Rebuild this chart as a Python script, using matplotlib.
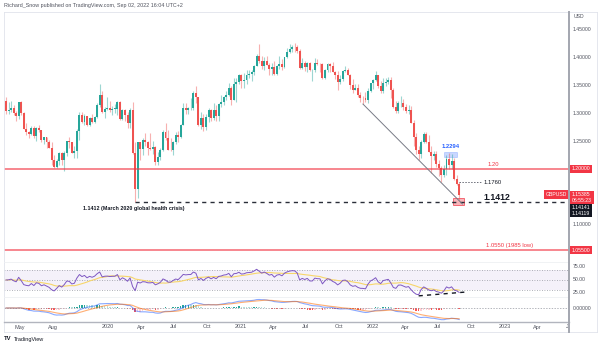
import numpy as np
import pandas as pd
import matplotlib
matplotlib.use("Agg")
import matplotlib.pyplot as plt
import matplotlib.dates as mdates
from matplotlib import transforms
from matplotlib.patches import Rectangle
from matplotlib.lines import Line2D

plt.rcParams['font.family'] = ['Liberation Sans', 'DejaVu Sans']

# weekly GBPUSD candles, week of 2019-03-25 .. week of 2022-08-29
weeks = pd.date_range("2019-03-25", periods=180, freq="W-MON")
first_open = 1.3210
closes = [
    1.3035, 1.3045, 1.3085, 1.2995, 1.2940, 1.3190, 1.3000, 1.2720, 1.2655, 1.2625,
    1.2740, 1.2590, 1.2740, 1.2695, 1.2520, 1.2570, 1.2475, 1.2375, 1.2160, 1.2030,
    1.2145, 1.2285, 1.2160, 1.2290, 1.2500, 1.2475, 1.2290, 1.2330, 1.2670, 1.2970,
    1.2835, 1.2940, 1.2780, 1.2905, 1.2845, 1.2935, 1.3150, 1.3325, 1.3010, 1.3075,
    1.3085,
    1.3060, 1.3075, 1.3080, 1.3200, 1.2900, 1.3045, 1.2960, 1.2820, 1.3050, 1.2280,
    1.1640, 1.2480, 1.2360, 1.2510, 1.2480, 1.2370, 1.2360, 1.2400, 1.2120, 1.2210,
    1.2345, 1.2665, 1.2555, 1.2345, 1.2335, 1.2485, 1.2615, 1.2565, 1.2790, 1.3085,
    1.3050, 1.3085, 1.3090, 1.3350, 1.3280, 1.2790, 1.2915, 1.2745, 1.2935, 1.3050,
    1.2915, 1.3045, 1.2945, 1.3155, 1.3195, 1.3285, 1.3315, 1.3440, 1.3230, 1.3520,
    1.3550, 1.3670,
    1.3565, 1.3590, 1.3685, 1.3705, 1.3730, 1.3845, 1.4010, 1.3925, 1.3835, 1.3925,
    1.3865, 1.3785, 1.3830, 1.3705, 1.3840, 1.3875, 1.3820, 1.3995, 1.4090, 1.4150,
    1.4185, 1.4180, 1.4110, 1.3800, 1.3885, 1.3830, 1.3890, 1.3760, 1.3760, 1.3900,
    1.3875, 1.3870, 1.3620, 1.3765, 1.3870, 1.3835, 1.3740, 1.3675, 1.3545, 1.3615,
    1.3745, 1.3760, 1.3680, 1.3500, 1.3415, 1.3440, 1.3330, 1.3270, 1.3265, 1.3235,
    1.3400, 1.3530,
    1.3590, 1.3680, 1.3485, 1.3390, 1.3530, 1.3560, 1.3590, 1.3410, 1.3110, 1.3035,
    1.3180, 1.3185, 1.3110, 1.3035, 1.3060, 1.2830, 1.2570, 1.2335, 1.2260, 1.2490,
    1.2620, 1.2490, 1.2310, 1.2230, 1.2265, 1.2095, 1.2025, 1.1890, 1.1995, 1.2180,
    1.2075, 1.2135, 1.1830, 1.1735, 1.1540,
]
highs = [
    1.3290, 1.3195, 1.3210, 1.3150, 1.3030, 1.3200, 1.3215, 1.3010, 1.2815, 1.2680,
    1.2765, 1.2760, 1.2750, 1.2785, 1.2700, 1.2580, 1.2580, 1.2520, 1.2480, 1.2250,
    1.2175, 1.2310, 1.2310, 1.2330, 1.2500, 1.2580, 1.2490, 1.2410, 1.2710, 1.3010,
    1.3010, 1.2980, 1.2950, 1.2925, 1.2985, 1.2950, 1.3180, 1.3515, 1.3385, 1.3115,
    1.3285,
    1.3215, 1.3120, 1.3165, 1.3210, 1.3210, 1.3070, 1.3070, 1.3010, 1.3085, 1.3200,
    1.2485, 1.2485, 1.2485, 1.2545, 1.2650, 1.2500, 1.2645, 1.2500, 1.2405, 1.2295,
    1.2375, 1.2690, 1.2815, 1.2690, 1.2545, 1.2505, 1.2665, 1.2670, 1.2810, 1.3170,
    1.3185, 1.3105, 1.3265, 1.3395, 1.3480, 1.3285, 1.3010, 1.2980, 1.2980, 1.3085,
    1.3080, 1.3175, 1.3140, 1.3175, 1.3315, 1.3300, 1.3400, 1.3540, 1.3480, 1.3625,
    1.3625, 1.3705,
    1.3705, 1.3710, 1.3760, 1.3760, 1.3760, 1.3865, 1.4050, 1.4240, 1.4015, 1.4000,
    1.4015, 1.3890, 1.3885, 1.3920, 1.3850, 1.4010, 1.3960, 1.4005, 1.4165, 1.4235,
    1.4220, 1.4250, 1.4215, 1.4135, 1.3985, 1.3935, 1.3910, 1.3910, 1.3785, 1.3985,
    1.3960, 1.3890, 1.3890, 1.3785, 1.3890, 1.3890, 1.3915, 1.3750, 1.3750, 1.3675,
    1.3770, 1.3835, 1.3810, 1.3700, 1.3610, 1.3515, 1.3510, 1.3370, 1.3300, 1.3375,
    1.3440, 1.3535,
    1.3600, 1.3750, 1.3685, 1.3565, 1.3630, 1.3630, 1.3645, 1.3645, 1.3440, 1.3215,
    1.3215, 1.3300, 1.3245, 1.3165, 1.3145, 1.3130, 1.2880, 1.2640, 1.2410, 1.2525,
    1.2665, 1.2665, 1.2600, 1.2405, 1.2325, 1.2330, 1.2165, 1.2060, 1.2065, 1.2245,
    1.2294, 1.2275, 1.2190, 1.1900, 1.1760,
]
lows = [
    1.2980, 1.2980, 1.3010, 1.2960, 1.2865, 1.2900, 1.2970, 1.2710, 1.2605, 1.2560,
    1.2610, 1.2560, 1.2505, 1.2660, 1.2475, 1.2440, 1.2380, 1.2370, 1.2080, 1.2015,
    1.2015, 1.2065, 1.2065, 1.1960, 1.2235, 1.2380, 1.2280, 1.2200, 1.2195, 1.2515,
    1.2815, 1.2780, 1.2770, 1.2770, 1.2820, 1.2825, 1.2915, 1.3105, 1.3000, 1.2905,
    1.3060,
    1.3010, 1.2960, 1.3005, 1.2960, 1.2870, 1.2875, 1.2850, 1.2725, 1.2725, 1.2260,
    1.1412, 1.1480, 1.2165, 1.2250, 1.2405, 1.2250, 1.2345, 1.2265, 1.2075, 1.2075,
    1.2160, 1.2330, 1.2520, 1.2335, 1.2330, 1.2250, 1.2450, 1.2480, 1.2545, 1.2780,
    1.2980, 1.2985, 1.3060, 1.3060, 1.3185, 1.2765, 1.2710, 1.2675, 1.2705, 1.2845,
    1.2865, 1.2880, 1.2855, 1.2855, 1.3105, 1.3135, 1.3240, 1.3310, 1.3135, 1.3225,
    1.3190, 1.3520,
    1.3450, 1.3450, 1.3520, 1.3625, 1.3565, 1.3670, 1.3835, 1.3890, 1.3780, 1.3775,
    1.3850, 1.3670, 1.3670, 1.3670, 1.3670, 1.3780, 1.3775, 1.3800, 1.3975, 1.4075,
    1.4090, 1.4085, 1.4075, 1.3790, 1.3785, 1.3745, 1.3730, 1.3750, 1.3570, 1.3740,
    1.3855, 1.3730, 1.3600, 1.3600, 1.3725, 1.3730, 1.3735, 1.3610, 1.3410, 1.3525,
    1.3570, 1.3730, 1.3670, 1.3425, 1.3355, 1.3405, 1.3280, 1.3195, 1.3160, 1.3200,
    1.3180, 1.3370,
    1.3430, 1.3565, 1.3450, 1.3360, 1.3360, 1.3485, 1.3525, 1.3275, 1.3085, 1.3000,
    1.3000, 1.3100, 1.3050, 1.3000, 1.2975, 1.2825, 1.2410, 1.2275, 1.2155, 1.2190,
    1.2470, 1.2460, 1.2305, 1.1935, 1.2160, 1.2030, 1.1875, 1.1760, 1.1860, 1.1890,
    1.2005, 1.2005, 1.1800, 1.1720, 1.1444,
]

# horizontal levels
level_120 = 1.20
level_1985 = 1.0550
level_2020 = 1.1412
level_jul = 1.1760
level_aug_high = 1.2294
last_price = 1.15385

price_ticks = [1.45, 1.40, 1.35, 1.30, 1.25, 1.10]
rsi_ticks = [75, 50, 25]
month_ticks = ["2019-05-01", "2019-08-01", "2020-01-01", "2020-04-01", "2020-07-01",
               "2020-10-01", "2021-01-01", "2021-04-01", "2021-07-01", "2021-10-01",
               "2022-01-01", "2022-04-01", "2022-07-01", "2022-10-01", "2023-01-01",
               "2023-04-01", "2023-07-01"]
month_labels = ["May", "Aug", "2020", "Apr", "Jul", "Oct", "2021", "Apr", "Jul", "Oct",
                "2022", "Apr", "Jul", "Oct", "2023", "Apr", "Jul"]

c = np.array(closes)
h = np.array(highs)
l = np.array(lows)
o = np.r_[first_open, c[:-1]]
x = mdates.date2num(weeks)

# indicators (RSI 14 with a neutral seed, MACD 12/26/9)
s = pd.Series(c)
d = s.diff().fillna(0)
gain = d.clip(lower=0)
loss = -d.clip(upper=0)
seed = d.abs().iloc[1:15].mean() / 2
gain.iloc[0] = seed
loss.iloc[0] = seed
rsi = 100 - 100 / (1 + gain.ewm(alpha=1/14, adjust=False).mean()
                   / loss.ewm(alpha=1/14, adjust=False).mean())
rsi_ma = rsi.rolling(14, min_periods=1).mean()
macd = s.ewm(span=12, adjust=False).mean() - s.ewm(span=26, adjust=False).mean()
sig = macd.ewm(span=9, adjust=False).mean()
hist = (macd - sig).values
dh = np.r_[0, np.diff(hist)]
hist_cols = np.where(hist >= 0, np.where(dh >= 0, '#26a69a', '#b2dfdb'),
                     np.where(dh <= 0, '#ff5252', '#ffcdd2'))

W, H = 601, 346
fig = plt.figure(figsize=(W/100, H/100), dpi=100)

def box(lft, top, rgt, bot):
    return [lft/W, 1-bot/H, (rgt-lft)/W, (bot-top)/H]

def fx(px):
    return px / W

def fy(py):
    return 1 - py / H

ax = fig.add_axes(box(4, 12, 569, 262))
ax_rsi = fig.add_axes(box(4, 262, 569, 297))
ax_macd = fig.add_axes(box(4, 297, 569, 322))

t0 = mdates.date2num(pd.Timestamp("2020-01-01"))
ppd = 132 / 365
xlim = (t0 - 104/ppd, t0 + 461/ppd)
for a in (ax, ax_rsi, ax_macd):
    a.set_xlim(xlim)
    a.set_xticks([])
    a.set_yticks([])
    for sp in a.spines.values():
        sp.set_visible(False)
ax.set_ylim(1.0339, 1.4804)
ax_rsi.set_ylim(17.3, 84.6)
ax_macd.set_ylim(-0.042, 0.033)

def date_px(ds):
    return 4 + (mdates.date2num(pd.Timestamp(ds)) - xlim[0]) * ppd

# candles
up = c >= o
cols = np.where(up, '#26a69a', '#ef5350')
ax.vlines(x, l, h, colors=cols, lw=0.8, alpha=0.45)
ax.bar(x, np.maximum(np.abs(c - o), 0.0007), bottom=np.minimum(o, c), width=5.4,
       color=cols, lw=0)

# levels
ax.axhline(level_120, color='#f23645', alpha=0.65, lw=1.3)
ax.axhline(level_1985, color='#f23645', alpha=0.65, lw=1.3)
i_low = int(np.argmin(l))
ax.hlines(level_2020, x[i_low], xlim[1], colors='#2a2e39', lw=1.0, linestyles=(0, (3, 3)))
i_jul = int(np.argmin(np.where(weeks.year == 2022, l, 9)))
ax.hlines(level_jul, x[i_jul], mdates.date2num(pd.Timestamp("2022-11-01")),
          colors='#6a6d78', lw=0.7, linestyles=(0, (1.5, 1.5)))
i_dec = int(np.argmin(np.where(weeks.year == 2021, l, 9)))
ax.plot([x[i_dec], mdates.date2num(pd.Timestamp("2022-09-07"))], [l[i_dec], 1.1375],
        color='#787b86', lw=0.7)
ax.add_patch(Rectangle((mdates.date2num(pd.Timestamp("2022-07-19")), 1.2214), 36, 0.0090,
                       fc='#2962ff', alpha=0.25, ec='#2962ff', lw=0.6))
ax.add_patch(Rectangle((mdates.date2num(pd.Timestamp("2022-08-13")), 1.1357), 30, 0.0125,
                       fc='#f7a1a8', ec='#f23645', lw=0.6, alpha=0.8))

# annotations
fig.text(fx(451), fy(147), "1.2294", color='#2962ff', fontsize=4.2, ha='center', va='center',
         weight='bold')
fig.text(fx(488), fy(164), "1.20", color='#f23645', fontsize=4.2, va='center')
fig.text(fx(484), fy(182), "1.1760", color='#131722', fontsize=4.2, va='center')
fig.text(fx(483), fy(198), "1.1412", color='#131722', fontsize=6.3, va='center', weight='bold')
fig.text(fx(83), fy(209), "1.1412 (March 2020 global health crisis)", color='#131722',
         fontsize=3.9, va='center', weight='bold')
fig.text(fx(486), fy(245), "1.0550 (1985 low)", color='#f23645', fontsize=4.2, va='center')

# RSI panel
ax_rsi.axhspan(30, 70, color='#7e57c2', alpha=0.08, lw=0)
for lv in (70, 50, 30):
    ax_rsi.axhline(lv, color='#9598a1', lw=0.6, ls=(0, (1, 2)))
ax_rsi.plot(x, rsi_ma, color='#f7d66a', lw=0.8)
ax_rsi.plot(x, rsi, color='#7e57c2', lw=0.7)
ax_rsi.plot(mdates.date2num([pd.Timestamp("2022-05-09"), pd.Timestamp("2022-09-19")]),
            [19.5, 27], color='#131722', lw=1.0, ls=(0, (3, 3)))

# MACD panel
ax_macd.axhline(0, color='#9598a1', lw=0.5, ls=(0, (2, 2)))
ax_macd.bar(x, hist, width=4, color=hist_cols, lw=0)
ax_macd.plot(x, macd, color='#2962ff', lw=0.8, alpha=0.55)
ax_macd.plot(x, sig, color='#ff6d00', lw=0.8, alpha=0.55)

# frame lines
def fline(x0, y0, x1, y1, col, lw):
    fig.add_artist(Line2D([fx(x0), fx(x1)], [fy(y0), fy(y1)], color=col, lw=lw))

fline(4, 12, 597, 12, '#e0e3eb', 0.6)
fline(4, 12, 4, 332, '#e0e3eb', 0.6)
fline(597, 12, 597, 332, '#e0e3eb', 0.6)
fline(4, 332, 597, 332, '#e0e3eb', 0.6)
fline(4, 262, 569, 262, '#eef0f3', 0.6)
fline(4, 297, 569, 297, '#eef0f3', 0.6)
fline(4, 322, 569, 322, '#b2b5be', 1.0)
fline(569, 12, 569, 332, '#a3a6af', 1.4)

# price axis
fs = 3.7
tr = transforms.blended_transform_factory(fig.transFigure, ax.transData)
for p in price_ticks:
    ax.text(fx(573), p, f"{p:.5f}", transform=tr, fontsize=fs, color='#50535e',
            va='center', clip_on=False)
fig.text(fx(574), fy(16), "USD", fontsize=fs, color='#50535e', va='center')
red_box = dict(boxstyle='square,pad=0.3', fc='#f23645', ec='none')
for p in (level_120, level_1985):
    ax.text(fx(572), p, f"{p:.5f}", transform=tr, fontsize=fs, color='white',
            va='center', bbox=red_box, clip_on=False)
ax.text(fx(572), 1.1491, f"{last_price:.5f}\n06:55:23", transform=tr, fontsize=fs,
        color='white', va='center', bbox=red_box, clip_on=False, linespacing=1.05)
ax.text(fx(567), 1.1545, "GBPUSD", transform=tr, fontsize=fs, color='white',
        va='center', ha='right', bbox=red_box, clip_on=False)
ax.text(fx(572), 1.1259, "1.14141\n1.14119", transform=tr, fontsize=fs, color='white',
        va='center', bbox=dict(boxstyle='square,pad=0.3', fc='#131722', ec='none'),
        clip_on=False, linespacing=1.05)

tr_r = transforms.blended_transform_factory(fig.transFigure, ax_rsi.transData)
for v in rsi_ticks:
    ax_rsi.text(fx(573), v, f"{v:.2f}", transform=tr_r, fontsize=fs, color='#50535e',
                va='center', clip_on=False)
tr_m = transforms.blended_transform_factory(fig.transFigure, ax_macd.transData)
ax_macd.text(fx(573), 0, "0.00000", transform=tr_m, fontsize=fs, color='#50535e',
             va='center', clip_on=False)

# time axis
clip = transforms.Bbox.from_extents(0, 0, 568, 346)
for ds, lab in zip(month_ticks, month_labels):
    t = fig.text(fx(date_px(ds)), fy(327), lab, fontsize=4.0, color='#50535e',
                 ha='center', va='center')
    t.set_clip_box(clip)
    t.set_clip_on(True)

# header and logo
fig.text(fx(4), fy(5), "Richard_Snow published on TradingView.com, Sep 02, 2022 16:04 UTC+2",
         fontsize=3.9, color='#50535e', va='center')
fig.text(fx(4), fy(339), "TV", fontsize=4.2, color='#131722', va='center', weight='bold')
fig.text(fx(14), fy(339), "TradingView", fontsize=4.0, color='#131722', va='center')

fig.savefig("out.png", dpi=100)
